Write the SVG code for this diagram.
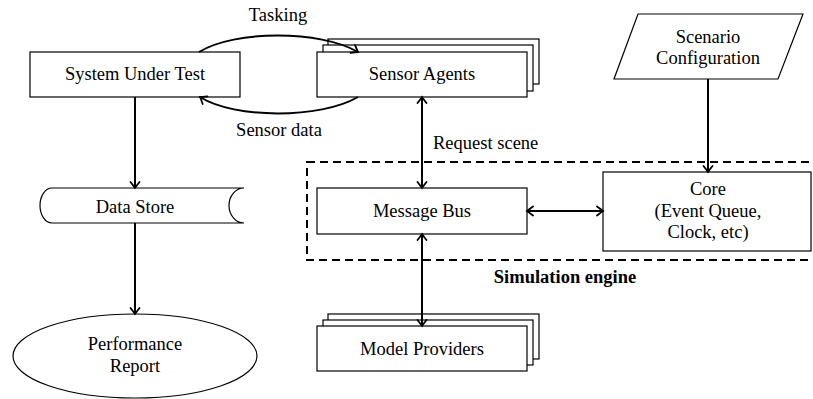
<svg xmlns="http://www.w3.org/2000/svg" width="813" height="399" viewBox="0 0 813 399">
<defs>
<style>
.box{fill:#fff;stroke:#000;stroke-width:1.2}
.t{font-family:'Liberation Serif','Times New Roman','DejaVu Serif',serif;font-size:18.5px;fill:#000;text-anchor:middle}
.lbl{font-family:'Liberation Serif','Times New Roman','DejaVu Serif',serif;font-size:18.5px;fill:#000}
.conn{fill:none;stroke:#000;stroke-width:2}
</style>
<marker id="arr" markerUnits="userSpaceOnUse" markerWidth="14" markerHeight="14" viewBox="-8 -7 10 14" refX="0" refY="0" orient="auto-start-reverse" overflow="visible">
<path d="M-6,-4.5 Q-1.5,-1 0,0 Q-1.5,1 -6,4.5" fill="none" stroke="#000" stroke-width="1.8" stroke-linecap="round"/>
</marker>
</defs>
<rect width="813" height="399" fill="#fff"/>

<g id="sim-engine">
<rect x="307" y="162" width="520" height="98" fill="none" stroke="#000" stroke-width="2" stroke-dasharray="8,5"/>
<text class="t" x="565" y="283" font-weight="bold">Simulation engine</text>
</g>

<g id="system-under-test">
<rect class="box" x="30" y="52" width="210" height="45"/>
<text class="t" x="135" y="80">System Under Test</text>
</g>

<g id="sensor-agents">
<rect class="box" x="328" y="39" width="211" height="45"/>
<rect class="box" x="323" y="45" width="210" height="46"/>
<rect class="box" x="317" y="52" width="210" height="45"/>
<text class="t" x="422" y="80">Sensor Agents</text>
</g>

<g id="scenario-configuration">
<polygon class="box" points="638,14 803,14 778,79 614,79"/>
<text class="t" x="708" y="43">Scenario</text>
<text class="t" x="708" y="64">Configuration</text>
</g>

<g id="core">
<rect class="box" x="603" y="172" width="208" height="79"/>
<text class="t" x="708" y="195">Core</text>
<text class="t" x="708" y="217">(Event Queue,</text>
<text class="t" x="708" y="238">Clock, etc)</text>
</g>

<g id="message-bus">
<rect class="box" x="317" y="188" width="210" height="46"/>
<text class="t" x="422" y="217">Message Bus</text>
</g>

<g id="model-providers">
<rect class="box" x="328" y="314" width="211" height="45"/>
<rect class="box" x="323" y="320" width="210" height="45"/>
<rect class="box" x="317" y="326" width="210" height="45"/>
<text class="t" x="422" y="355">Model Providers</text>
</g>

<g id="data-store">
<path class="box" d="M52,188 L244,188 A15,17.5 0 0 0 244,223 L52,223 A12,17.5 0 0 1 52,188 Z"/>
<text class="t" x="135" y="213">Data Store</text>
</g>

<g id="performance-report">
<ellipse class="box" cx="135" cy="356" rx="122" ry="42"/>
<text class="t" x="135" y="350">Performance</text>
<text class="t" x="135" y="372">Report</text>
</g>

<g id="connectors">
<path class="conn" d="M199,52 C235,30 320,30 358,52" marker-end="url(#arr)"/>
<text class="t" x="278" y="21">Tasking</text>
<path class="conn" d="M358,97 C320,119 235,119 200,97" marker-end="url(#arr)"/>
<text class="t" x="279" y="136">Sensor data</text>
<path class="conn" d="M422,97 L422,188" marker-start="url(#arr)" marker-end="url(#arr)"/>
<text class="lbl" x="433" y="149">Request scene</text>
<path class="conn" d="M527,211 L603,211" marker-start="url(#arr)" marker-end="url(#arr)"/>
<path class="conn" d="M422,234 L422,326" marker-start="url(#arr)" marker-end="url(#arr)"/>
<path class="conn" d="M708,79 L708,172" marker-end="url(#arr)"/>
<path class="conn" d="M135,97 L135,188" marker-end="url(#arr)"/>
<path class="conn" d="M135,223 L135,314" marker-end="url(#arr)"/>
</g>
</svg>
